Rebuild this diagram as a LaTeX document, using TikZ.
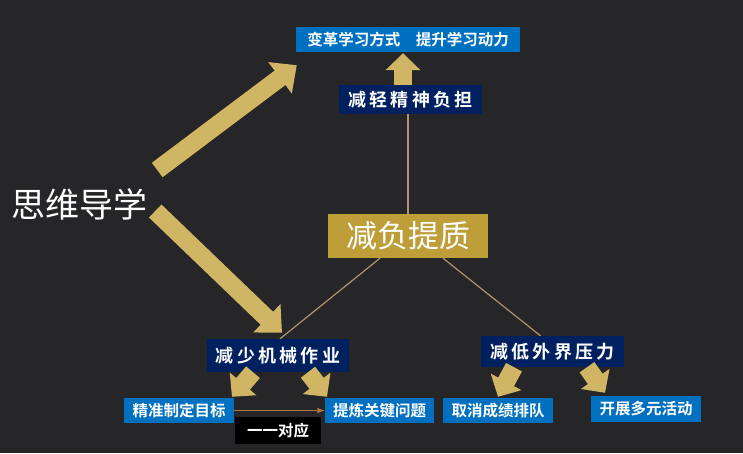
\documentclass[tikz,border=0pt]{standalone}
\usepackage{fontspec}
\usepackage{tikz}
\usetikzlibrary{arrows.meta}
\newfontfamily\cjk{Noto Sans CJK SC}[BoldFont={Noto Sans CJK SC Bold}]
\newfontfamily\cjkwide{Noto Sans CJK SC Bold}[LetterSpace=18]
\definecolor{bgdark}{RGB}{38,38,40}
\definecolor{navybox}{RGB}{0,32,96}
\definecolor{bluebox}{RGB}{0,112,192}
\definecolor{goldbox}{RGB}{189,158,56}
\definecolor{goldarr}{RGB}{207,181,100}
\definecolor{tanline}{RGB}{172,148,116}
\definecolor{brownarr}{RGB}{170,120,60}

\begin{document}
\begin{tikzpicture}[x=1pt,y=-1pt,>=Latex,
  bluetag/.style={fill=bluebox,text=white,inner sep=0pt,minimum height=25pt,font=\cjk\bfseries\fontsize{15.5}{17}\selectfont},
  navytag/.style={fill=navybox,text=white,inner sep=0pt,font=\cjkwide\fontsize{18}{20}\selectfont},
  bigarrow/.style={draw=goldarr,line width=18pt,-{Triangle[length=21pt,width=38pt]}},
  smallarrow/.style={draw=goldarr,line width=18pt,-{Triangle[length=17pt,width=34pt]}},
  thinline/.style={draw=tanline,line width=1.2pt}]
\fill[bgdark] (0,0) rectangle (743,453);
\useasboundingbox (0,0) rectangle (743,453);

\node[text=white,inner sep=0pt,font=\cjk\fontsize{34}{36}\selectfont] (sw) at (79,204) {思维导学};
\node[bluetag,minimum width=224pt] (top) at (408,39.5) {变革学习方式\hspace{1em}提升学习动力};
\node[navytag,minimum width=143pt,minimum height=29pt] (jq) at (410.5,99.5) {减轻精神负担};
\node[fill=goldbox,text=white,inner sep=0pt,minimum width=160pt,minimum height=44pt,font=\cjk\fontsize{31}{34}\selectfont] (jf) at (408,236) {减负提质};
\node[navytag,minimum width=142pt,minimum height=33pt] (js) at (278,355.5) {减少机械作业};
\node[navytag,minimum width=143pt,minimum height=31pt] (jd) at (552.5,351.5) {减低外界压力};
\node[bluetag,minimum width=110pt] (zq) at (179,410.5) {精准制定目标};
\node[bluetag,minimum width=109pt] (tl) at (379.5,410.5) {提炼关键问题};
\node[fill=black,text=white,inner sep=0pt,minimum width=86pt,minimum height=27pt,font=\cjk\bfseries\fontsize{15.5}{17}\selectfont] (dy) at (278,430.5) {一一对应};
\node[bluetag,minimum width=110pt] (qx) at (498,410.5) {取消成绩排队};
\node[bluetag,minimum width=110pt,minimum height=26pt] (kz) at (646,409) {开展多元活动};

% connecting lines
\draw[thinline] (jf.north -| top.south) -- (top.south |- jq.south);
\draw[thinline] ([xshift=-28pt]jf.south) -- ([xshift=2pt]js.north);
\draw[thinline] ([xshift=35pt]jf.south) -- ([xshift=-12pt]jd.north);
\draw[->,brownarr,line width=1pt] (zq.east) -- (tl.west);

% gold arrows
\draw[bigarrow] ([xshift=10pt,yshift=34pt]sw.east) -- ([xshift=1pt,yshift=-13pt]top.south west);
\draw[bigarrow] ([xshift=8pt,yshift=-7pt]sw.east) -- ([xshift=4pt,yshift=6pt]js.north);
\draw[smallarrow] ([xshift=-7.5pt]jq.north) -- ([xshift=-5pt,yshift=-1pt]top.south);
\draw[smallarrow] ([xshift=-25pt]js.south) -- ([xshift=53pt,yshift=1pt]zq.north);
\draw[smallarrow] ([xshift=30pt]js.south) -- ([xshift=-52.5pt,yshift=1pt]tl.north);
\draw[smallarrow] ([xshift=-38.5pt]jd.south) -- ([yshift=1pt]qx.north);
\draw[smallarrow] ([xshift=34.5pt]jd.south) -- ([xshift=-41pt,yshift=3pt]kz.north);
\end{tikzpicture}
\end{document}
